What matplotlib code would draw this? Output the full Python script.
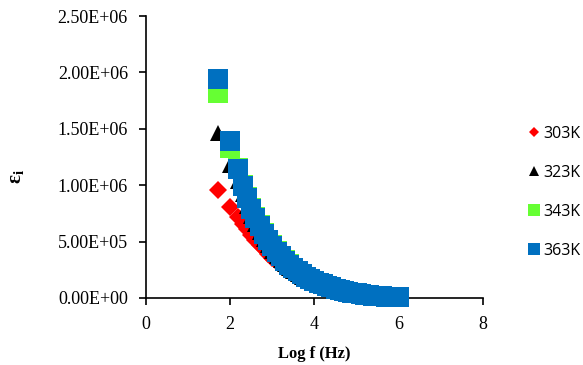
import numpy as np
import matplotlib.pyplot as plt
from matplotlib.ticker import FormatStrFormatter

# log of frequency (Hz)
log_f = [1.70, 2.00, 2.18, 2.30, 2.40, 2.50, 2.60, 2.70, 2.80, 2.90,
         3.00, 3.10, 3.20, 3.30, 3.40, 3.50, 3.60, 3.70, 3.80, 3.90,
         4.00, 4.10, 4.20, 4.30, 4.40, 4.50, 4.60, 4.70, 4.80, 4.90,
         5.00, 5.10, 5.20, 5.30, 5.40, 5.50, 5.60, 5.70, 5.80, 5.90, 6.00]

# dielectric loss, in units of 1E+06
eps_303 = [0.96, 0.81, 0.72, 0.66, 0.61, 0.56, 0.51, 0.47, 0.43, 0.39,
           0.355, 0.32, 0.29, 0.26, 0.235, 0.21, 0.19, 0.17, 0.152, 0.137,
           0.123, 0.11, 0.099, 0.089, 0.078, 0.069, 0.061, 0.053, 0.046, 0.040,
           0.034, 0.029, 0.025, 0.021, 0.017, 0.014, 0.011, 0.009, 0.007, 0.005, 0.004]
eps_323 = [1.46, 1.18, 1.04, 0.92, 0.82, 0.73, 0.655, 0.585, 0.525, 0.47,
           0.42, 0.375, 0.335, 0.30, 0.268, 0.24, 0.213, 0.19, 0.17, 0.152,
           0.136, 0.121, 0.108, 0.097, 0.085, 0.075, 0.066, 0.058, 0.050, 0.043,
           0.037, 0.031, 0.026, 0.022, 0.018, 0.015, 0.012, 0.010, 0.008, 0.006, 0.004]
eps_343 = [1.82, 1.33, 1.15, 1.00, 0.895, 0.80, 0.718, 0.643, 0.577, 0.516,
           0.466, 0.415, 0.374, 0.334, 0.298, 0.268, 0.238, 0.213, 0.190, 0.170,
           0.152, 0.136, 0.122, 0.109, 0.096, 0.084, 0.074, 0.064, 0.056, 0.048,
           0.041, 0.035, 0.030, 0.025, 0.021, 0.018, 0.015, 0.012, 0.010, 0.008, 0.006]
eps_363 = [1.94, 1.39, 1.14, 0.99, 0.885, 0.79, 0.71, 0.635, 0.57, 0.51,
           0.46, 0.41, 0.37, 0.33, 0.295, 0.265, 0.235, 0.21, 0.188, 0.168,
           0.150, 0.134, 0.120, 0.107, 0.094, 0.082, 0.072, 0.063, 0.055, 0.047,
           0.040, 0.034, 0.029, 0.024, 0.020, 0.017, 0.014, 0.011, 0.009, 0.007, 0.005]

series = [
    ('303K', eps_303, 'D', '#FF0000', 9.2),
    ('323K', eps_323, '^', '#000000', 11.0),
    ('343K', eps_343, 's', '#66FF33', 14.4),
    ('363K', eps_363, 's', '#0070C0', 14.4),
]

serif = 'Liberation Serif'

fig = plt.figure(figsize=(5.83, 3.65), dpi=100)
ax = fig.add_axes([0.2504, 0.1836, 0.578, 0.7724])

for name, vals, mk, col, ms in series:
    ax.plot(log_f, np.array(vals) * 1e6, linestyle='none', marker=mk,
            color=col, markersize=ms, markeredgewidth=0, label=name,
            clip_on=False, zorder=3)

ax.set_xlim(0, 8)
ax.set_ylim(0, 2.5e6)
ax.set_xticks([0, 2, 4, 6, 8])
ax.set_yticks(np.arange(0, 2.51e6, 0.5e6))
ax.yaxis.set_major_formatter(FormatStrFormatter('%.2E'))

for s in ['top', 'right']:
    ax.spines[s].set_visible(False)
for s in ['left', 'bottom']:
    ax.spines[s].set_linewidth(1.2)
ax.tick_params(direction='out', length=5, width=1.2, labelsize=13, pad=8)
for lab in ax.get_xticklabels() + ax.get_yticklabels():
    lab.set_fontfamily(serif)

ax.set_xlabel('Log f (Hz)', fontsize=12, fontweight='bold', family=serif, labelpad=9)
ax.set_ylabel(r'ε$_\mathregular{i}$', fontsize=15, fontweight='bold', family=serif)
ax.yaxis.set_label_coords(-0.352, 0.43)

leg = ax.legend(loc='center left', bbox_to_anchor=(1.094, 0.375), frameon=False,
                markerscale=0.6, handlelength=0.6, handletextpad=0.3,
                labelspacing=1.45, prop={'family': 'Open Sans', 'size': 11.5})

fig.savefig('out.png', dpi=100)
